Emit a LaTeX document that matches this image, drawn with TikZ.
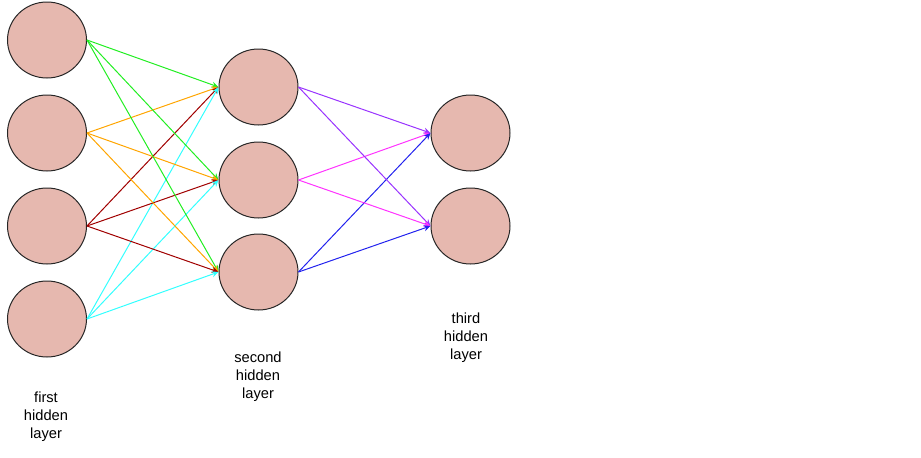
\documentclass[tikz,border=0pt]{standalone}
\usepackage{fontspec}
\setmainfont{Liberation Sans}
\usetikzlibrary{shapes.geometric,arrows.meta}
\definecolor{nfill}{HTML}{E6B8AF}
\definecolor{cgreen}{HTML}{22EE22}
\definecolor{corange}{HTML}{FFA500}
\definecolor{cdred}{HTML}{A00000}
\definecolor{ccyan}{HTML}{33FFFF}
\definecolor{cviolet}{HTML}{9933FF}
\definecolor{cmag}{HTML}{FF33FF}
\definecolor{cblue}{HTML}{2222EE}
\begin{document}
\begin{tikzpicture}[x=0.75pt,y=-0.75pt,
  neuron/.style={ellipse,draw=black!85,line width=0.75pt,fill=nfill,minimum width=59.25pt,minimum height=57pt,inner sep=0pt},
  conn/.style={line width=0.75pt,-{Stealth[length=5pt,width=4.5pt]}},
  lbl/.style={align=center,font=\fontsize{11}{13.5}\selectfont,inner sep=0pt}]
\useasboundingbox (0,0) rectangle (921,457);
\node[neuron] (a1) at (47,40) {};
\node[neuron] (a2) at (47,133) {};
\node[neuron] (a3) at (47,226) {};
\node[neuron] (a4) at (47,319) {};
\node[neuron] (b1) at (258.5,87) {};
\node[neuron] (b2) at (258.5,180) {};
\node[neuron] (b3) at (258.5,272) {};
\node[neuron] (c1) at (470.5,133) {};
\node[neuron] (c2) at (470.5,226) {};
\foreach \t in {b1,b2,b3}{
  \draw[conn,cgreen] (a1.east) -- (\t.west);
  \draw[conn,corange] (a2.east) -- (\t.west);
  \draw[conn,cdred] (a3.east) -- (\t.west);
  \draw[conn,ccyan] (a4.east) -- (\t.west);
}
\foreach \t in {c1,c2}{
  \draw[conn,cviolet] (b1.east) -- (\t.west);
  \draw[conn,cmag] (b2.east) -- (\t.west);
  \draw[conn,cblue] (b3.east) -- (\t.west);
}
\node[lbl] (l1) at (46,417) {first\\hidden\\layer};
\node[lbl] (l2) at (258,377) {second\\hidden\\layer};
\node[lbl] (l3) at (466,338) {third\\hidden\\layer};
\end{tikzpicture}
\end{document}
